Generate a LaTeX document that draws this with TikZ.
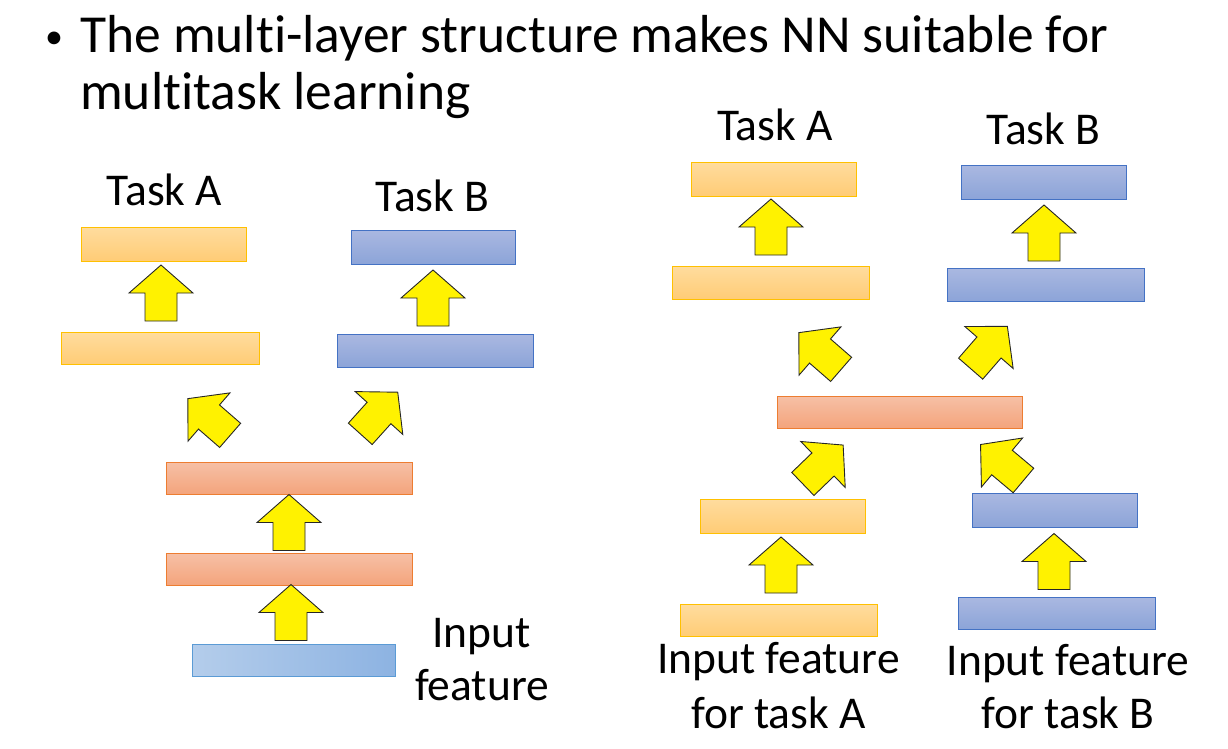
\documentclass[tikz,border=0pt]{standalone}
\usepackage{fontspec}
\setmainfont[Ligatures={NoCommon}]{Carlito}
\definecolor{orT}{HTML}{FFDC9E}
\definecolor{orBt}{HTML}{FFCC76}
\definecolor{orD}{HTML}{FFC000}
\definecolor{blT}{HTML}{AAB8E1}
\definecolor{blBt}{HTML}{8CA4D8}
\definecolor{blD}{HTML}{4472C4}
\definecolor{saT}{HTML}{F6C0A6}
\definecolor{saBt}{HTML}{F4A47C}
\definecolor{saD}{HTML}{ED7D31}
\definecolor{inL}{HTML}{B4CDEB}
\definecolor{inR}{HTML}{8DB3E2}
\definecolor{inD}{HTML}{5B9BD5}
\begin{document}
\begin{tikzpicture}[x=1pt,y=-1pt,
  bar/.style={line width=1pt, inner sep=0pt, outer sep=0pt},
  orangebar/.style={bar, draw=orD, top color=orT, bottom color=orBt},
  bluebar/.style={bar, draw=blD, top color=blT, bottom color=blBt},
  salmonbar/.style={bar, draw=saD, top color=saT, bottom color=saBt},
  inputbar/.style={bar, draw=inD, left color=inL, right color=inR},
  arrowfill/.style={fill=yellow, draw=black!85, line width=0.9pt, line join=miter},
  txt/.style={inner sep=0pt, anchor=base, font=\fontsize{45.5}{54}\selectfont},
  ttl/.style={inner sep=0pt, anchor=base west, font=\fontsize{53.5}{60}\selectfont},
  pics/blockarrow/.style={code={
    \draw[arrowfill] (0,-28) -- (32,0) -- (16,0) -- (16,28) -- (-16,28) -- (-16,0) -- (-32,0) -- cycle;}}
]
\useasboundingbox (0,0) rectangle (1228,748);

% title
\node[inner sep=0pt, font=\fontsize{36}{40}\selectfont] (bul) at (54,40) {\textbullet};
\node[ttl] (t1) at (80,52) {The multi-layer structure makes NN suitable for};
\node[ttl] (t2) at (80,109) {multitask learning};

% ---------- left diagram ----------
\node[txt] (lta) at (164.5,205) {Task A};
\node[txt] (ltb) at (432.5,211) {Task B};
\node[orangebar, minimum width=165, minimum height=34] (la2) at (163.5,244) {};
\node[orangebar, minimum width=198, minimum height=32] (la1) at (160,348) {};
\node[bluebar, minimum width=164, minimum height=34] (lb2) at (433,247) {};
\node[bluebar, minimum width=196, minimum height=33] (lb1) at (435,350.5) {};
\node[salmonbar, minimum width=246, minimum height=32] (ls2) at (289,478) {};
\node[salmonbar, minimum width=246, minimum height=32] (ls1) at (289,569) {};
\node[inputbar, minimum width=203, minimum height=32] (lin) at (293.5,660) {};
\node[txt] (lif1) at (481.5,647) {Input};
\node[txt] (lif2) at (482,700) {feature};

\pic at (161,293) {blockarrow};
\pic at (433,298) {blockarrow};
\pic at (289,522.5) {blockarrow};
\pic at (291,612.5) {blockarrow};
\pic[rotate=49] at (209,417) {blockarrow};
\pic[rotate=-42] at (379,413) {blockarrow};

% ---------- right diagram ----------
\node[txt] (rta) at (775,140) {Task A};
\node[txt] (rtb) at (1043.5,144) {Task B};
\node[orangebar, minimum width=165, minimum height=34] (ra2) at (773.5,179) {};
\node[orangebar, minimum width=197, minimum height=33] (ra1) at (770.5,282.5) {};
\node[bluebar, minimum width=165, minimum height=34] (rb2) at (1043.5,182) {};
\node[bluebar, minimum width=197, minimum height=33] (rb1) at (1045.5,284.5) {};
\node[salmonbar, minimum width=245, minimum height=32] (rs) at (899.5,412) {};
\node[orangebar, minimum width=165, minimum height=34] (ra0) at (782.5,516) {};
\node[orangebar, minimum width=197, minimum height=32] (rain) at (778.5,620) {};
\node[bluebar, minimum width=165, minimum height=34] (rb0) at (1054.5,510) {};
\node[bluebar, minimum width=197, minimum height=32] (rbin) at (1056.5,613) {};
\node[txt] (raf1) at (778.5,673) {Input feature};
\node[txt] (raf2) at (778.5,728) {for task A};
\node[txt] (rbf1) at (1068,675) {Input feature};
\node[txt] (rbf2) at (1068,728) {for task B};

\pic at (771,227) {blockarrow};
\pic at (1044,233) {blockarrow};
\pic at (781,565) {blockarrow};
\pic at (1054,561.5) {blockarrow};
\pic[rotate=49] at (820,351) {blockarrow};
\pic[rotate=-41] at (989,347.5) {blockarrow};
\pic[rotate=-46] at (823,464.5) {blockarrow};
\pic[rotate=50] at (1002,462.5) {blockarrow};
\end{tikzpicture}
\end{document}
